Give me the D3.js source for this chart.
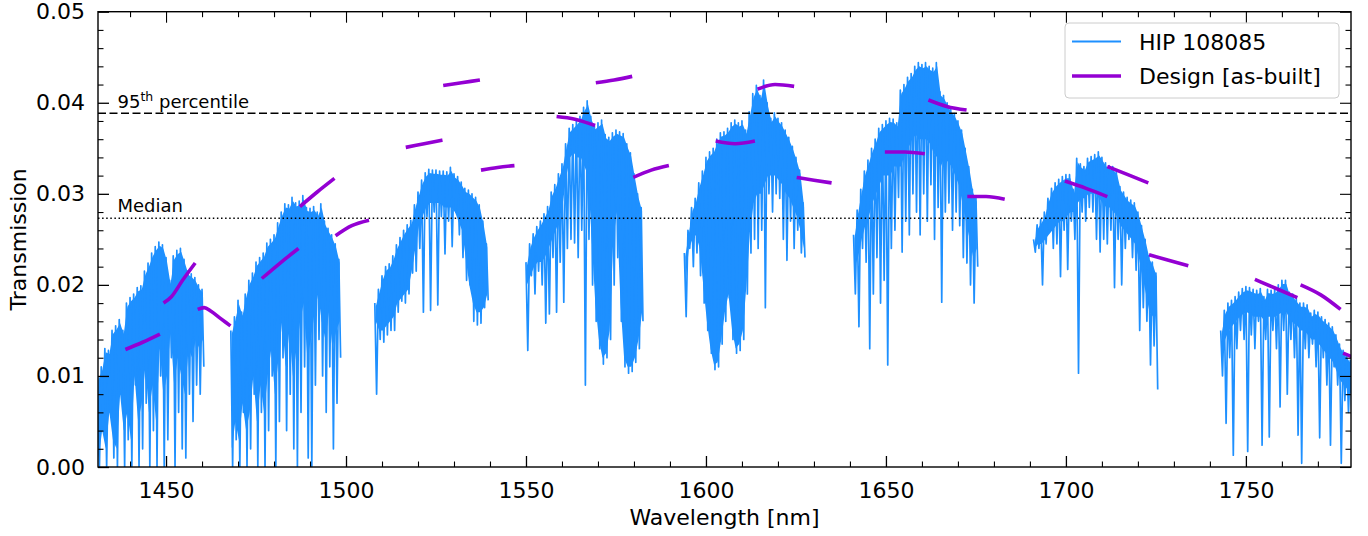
<!DOCTYPE html>
<html><head><meta charset="utf-8">
<script src="https://cdn.jsdelivr.net/npm/d3@7"></script>
<style>
body{margin:0;background:#fff;}
svg{display:block;font-family:"DejaVu Sans",sans-serif;}
</style></head><body><svg id="c" width="1368" height="536"></svg>
<script>
// ---- DATA ----
// Spectrum of HIP 108085, per 1-nm bin: upper value (top), lower edge of the dense band (band), deepest line (low)
const order1Start = 1431;
const order1Top  = [0.0100,0.0110,0.0130,0.0128,0.0150,0.0155,0.0162,0.0150,0.0180,0.0186,0.0190,0.0197,0.0199,0.0215,0.0224,0.0235,0.0242,0.0247,0.0244,0.0230,0.0205,0.0232,0.0238,0.0240,0.0228,0.0215,0.0212,0.0208,0.0200,0.0195];
const order1Band = [0.001,0.004,0.002,0.006,0.003,0.002,0.008,0.004,0.006,0.003,0.010,0.005,0.007,0.011,0.006,0.009,0.005,0.013,0.008,0.010,0.015,0.009,0.012,0.010,0.008,0.013,0.012,0.014,0.013,0.014];
const order1Low  = [0.000,0.004,0.000,0.006,0.001,0.000,0.008,0.000,0.003,0.000,0.009,0.000,0.002,0.007,0.000,0.004,0.000,0.010,0.000,0.003,0.012,0.000,0.006,0.002,0.001,0.008,0.005,0.009,0.008,0.011];

const order2Start = 1468;
const order2Top  = [0.0150,0.0165,0.0183,0.0170,0.0190,0.0205,0.0213,0.0225,0.0230,0.0235,0.0246,0.0250,0.0255,0.0268,0.0280,0.0289,0.0288,0.0296,0.0290,0.0292,0.0298,0.0285,0.0284,0.0286,0.0280,0.0289,0.0270,0.0262,0.0255,0.0245,0.0228];
const order2Band = [0.002,0.005,0.003,0.007,0.004,0.006,0.010,0.005,0.009,0.006,0.010,0.013,0.008,0.012,0.016,0.011,0.015,0.010,0.013,0.016,0.018,0.012,0.014,0.017,0.019,0.016,0.014,0.017,0.013,0.015,0.016];
const order2Low  = [0.000,0.003,0.000,0.006,0.000,0.002,0.008,0.000,0.006,0.000,0.004,0.010,0.000,0.005,0.012,0.004,0.008,0.002,0.000,0.006,0.011,0.001,0.000,0.009,0.014,0.010,0.006,0.011,0.002,0.007,0.012];

const order3Start = 1508;
const order3Top  = [0.0180,0.0195,0.0210,0.0220,0.0223,0.0232,0.0244,0.0252,0.0260,0.0266,0.0271,0.0288,0.0302,0.0315,0.0323,0.0327,0.0326,0.0326,0.0325,0.0325,0.0324,0.0329,0.0322,0.0319,0.0313,0.0306,0.0304,0.0300,0.0296,0.0288,0.0270,0.0245];
const order3Band = [0.0160,0.0150,0.0150,0.0155,0.0160,0.0165,0.0180,0.0185,0.0190,0.0195,0.0215,0.0240,0.0265,0.0275,0.0285,0.0290,0.0290,0.0290,0.0290,0.0285,0.0285,0.0285,0.0280,0.0270,0.0260,0.0230,0.0200,0.0180,0.0170,0.0170,0.0175,0.0190];
const order3Low  = [0.0080,0.0140,0.0137,0.0145,0.0150,0.0150,0.0170,0.0182,0.0180,0.0190,0.0213,0.0215,0.0240,0.0170,0.0275,0.0172,0.0280,0.0178,0.0275,0.0234,0.0270,0.0242,0.0280,0.0255,0.0230,0.0205,0.0200,0.0160,0.0156,0.0158,0.0175,0.0183];

const order4Start = 1550;
const order4Top  = [0.0225,0.0245,0.0256,0.0264,0.0270,0.0278,0.0286,0.0302,0.0310,0.0322,0.0333,0.0355,0.0372,0.0376,0.0380,0.0385,0.0395,0.0402,0.0385,0.0375,0.0378,0.0381,0.0365,0.0362,0.0367,0.0370,0.0368,0.0366,0.0355,0.0345,0.0322,0.0300,0.0285];
const order4Band = [0.0200,0.0210,0.0220,0.0225,0.0225,0.0230,0.0240,0.0250,0.0260,0.0270,0.0290,0.0320,0.0340,0.0345,0.0340,0.0340,0.0330,0.0320,0.0250,0.0180,0.0140,0.0120,0.0125,0.0150,0.0250,0.0280,0.0180,0.0120,0.0110,0.0110,0.0120,0.0140,0.0170];
const order4Low  = [0.0128,0.0210,0.0190,0.0215,0.0200,0.0158,0.0168,0.0230,0.0170,0.0225,0.0181,0.0240,0.0250,0.0246,0.0230,0.0260,0.0090,0.0250,0.0200,0.0160,0.0130,0.0113,0.0120,0.0140,0.0200,0.0230,0.0160,0.0110,0.0103,0.0105,0.0115,0.0130,0.0160];

const order5Start = 1594;
const order5Top  = [0.0235,0.0260,0.0285,0.0295,0.0312,0.0325,0.0340,0.0346,0.0350,0.0360,0.0367,0.0368,0.0372,0.0378,0.0381,0.0378,0.0380,0.0370,0.0390,0.0410,0.0419,0.0408,0.0425,0.0400,0.0383,0.0389,0.0383,0.0378,0.0370,0.0362,0.0352,0.0340,0.0326,0.0290];
const order5Band = [0.0200,0.0240,0.0250,0.0255,0.0240,0.0200,0.0160,0.0130,0.0112,0.0115,0.0140,0.0170,0.0190,0.0150,0.0130,0.0135,0.0150,0.0200,0.0260,0.0290,0.0300,0.0300,0.0310,0.0320,0.0320,0.0320,0.0315,0.0310,0.0300,0.0295,0.0285,0.0275,0.0260,0.0240];
const order5Low  = [0.0165,0.0240,0.0220,0.0235,0.0210,0.0180,0.0150,0.0125,0.0107,0.0110,0.0135,0.0160,0.0186,0.0140,0.0125,0.0128,0.0140,0.0190,0.0235,0.0250,0.0240,0.0260,0.0175,0.0300,0.0280,0.0300,0.0295,0.0250,0.0227,0.0270,0.0240,0.0260,0.0235,0.0230];

const order6Start = 1641;
const order6Top  = [0.0255,0.0282,0.0305,0.0325,0.0337,0.0350,0.0360,0.0372,0.0376,0.0380,0.0383,0.0382,0.0378,0.0414,0.0420,0.0428,0.0432,0.0440,0.0444,0.0442,0.0444,0.0440,0.0438,0.0444,0.0412,0.0408,0.0400,0.0393,0.0388,0.0380,0.0370,0.0350,0.0330,0.0305,0.0295];
const order6Band = [0.0220,0.0230,0.0250,0.0265,0.0275,0.0290,0.0300,0.0310,0.0320,0.0320,0.0320,0.0330,0.0330,0.0330,0.0345,0.0350,0.0360,0.0365,0.0360,0.0360,0.0360,0.0355,0.0345,0.0340,0.0330,0.0340,0.0335,0.0330,0.0320,0.0310,0.0290,0.0270,0.0250,0.0230,0.0240];
const order6Low  = [0.0190,0.0154,0.0240,0.0225,0.0130,0.0190,0.0230,0.0180,0.0205,0.0112,0.0240,0.0260,0.0296,0.0236,0.0270,0.0255,0.0300,0.0280,0.0255,0.0300,0.0270,0.0310,0.0250,0.0285,0.0181,0.0280,0.0290,0.0260,0.0280,0.0265,0.0230,0.0224,0.0200,0.0180,0.0220];

const order7Start = 1691;
const order7Top  = [0.0250,0.0266,0.0272,0.0280,0.0295,0.0306,0.0312,0.0316,0.0319,0.0321,0.0321,0.0305,0.0339,0.0333,0.0330,0.0339,0.0341,0.0343,0.0346,0.0340,0.0334,0.0331,0.0330,0.0325,0.0308,0.0302,0.0296,0.0293,0.0290,0.0280,0.0265,0.0250,0.0232,0.0225,0.0213];
const order7Band = [0.0240,0.0245,0.0245,0.0250,0.0255,0.0260,0.0265,0.0270,0.0270,0.0275,0.0280,0.0280,0.0290,0.0295,0.0295,0.0300,0.0300,0.0300,0.0295,0.0290,0.0285,0.0285,0.0280,0.0275,0.0265,0.0260,0.0255,0.0250,0.0245,0.0230,0.0210,0.0190,0.0170,0.0165,0.0170];
const order7Low  = [0.0236,0.0240,0.0200,0.0245,0.0260,0.0240,0.0245,0.0209,0.0260,0.0217,0.0270,0.0250,0.0103,0.0280,0.0270,0.0285,0.0280,0.0250,0.0236,0.0250,0.0245,0.0260,0.0197,0.0250,0.0200,0.0240,0.0250,0.0230,0.0216,0.0150,0.0175,0.0160,0.0112,0.0133,0.0085];

const order8Start = 1743;
const order8Top  = [0.0150,0.0172,0.0180,0.0183,0.0187,0.0192,0.0196,0.0198,0.0197,0.0195,0.0194,0.0196,0.0187,0.0195,0.0194,0.0195,0.0200,0.0205,0.0205,0.0192,0.0190,0.0185,0.0180,0.0180,0.0178,0.0169,0.0172,0.0170,0.0165,0.0162,0.0158,0.0154,0.0145,0.0135,0.0128,0.0123,0.0117,0.0110];
const order8Band = [0.0120,0.0140,0.0150,0.0155,0.0160,0.0165,0.0168,0.0170,0.0168,0.0165,0.0165,0.0165,0.0160,0.0165,0.0165,0.0165,0.0168,0.0170,0.0170,0.0162,0.0158,0.0155,0.0150,0.0150,0.0145,0.0140,0.0140,0.0135,0.0130,0.0125,0.0120,0.0115,0.0105,0.0095,0.0090,0.0085,0.0080,0.0080];
const order8Low  = [0.0100,0.0048,0.0120,0.0013,0.0130,0.0150,0.0140,0.0017,0.0145,0.0130,0.0160,0.0024,0.0140,0.0033,0.0150,0.0130,0.0066,0.0150,0.0080,0.0140,0.0120,0.0035,0.0004,0.0130,0.0120,0.0135,0.0110,0.0032,0.0120,0.0090,0.0024,0.0110,0.0090,0.0004,0.0073,0.0060,0.0050,0.0070];

// Design [as-built]: short curves, [wavelength, transmission]
const designCurves = [
  [[1438.7,0.0129],[1443.5,0.0137],[1448.3,0.0146]],
  [[1449.3,0.0180],[1451.5,0.0187],[1454.6,0.0205],[1458.1,0.0224]],
  [[1458.8,0.0173],[1460.6,0.0175],[1462.5,0.0171],[1465.2,0.0163],[1467.9,0.0155]],
  [[1476.6,0.0207],[1481.7,0.0224],[1486.8,0.0240]],
  [[1487.2,0.0286],[1492.0,0.0302],[1496.8,0.0317]],
  [[1497.1,0.0254],[1501.6,0.0265],[1506.4,0.0271]],
  [[1516.6,0.0351],[1521.7,0.0355],[1526.8,0.0359]],
  [[1527.0,0.0419],[1532.1,0.0422],[1537.2,0.0425]],
  [[1537.5,0.0326],[1542.1,0.0329],[1546.8,0.0331]],
  [[1558.5,0.0385],[1563.6,0.0382],[1569.2,0.0375]],
  [[1569.4,0.0422],[1574.5,0.0425],[1579.5,0.0429]],
  [[1579.8,0.0318],[1584.8,0.0326],[1589.7,0.0331]],
  [[1602.7,0.0358],[1608.1,0.0355],[1613.6,0.0358]],
  [[1614.3,0.0415],[1619.2,0.0420],[1624.5,0.0418]],
  [[1625.2,0.0318],[1630.0,0.0315],[1634.9,0.0312]],
  [[1649.7,0.0346],[1655.2,0.0346],[1660.8,0.0344]],
  [[1661.8,0.0403],[1666.9,0.0396],[1672.4,0.0392]],
  [[1672.6,0.0297],[1677.8,0.0297],[1683.0,0.0294]],
  [[1699.7,0.0314],[1705.6,0.0306],[1711.5,0.0297]],
  [[1711.5,0.0330],[1717.2,0.0321],[1722.9,0.0312]],
  [[1723.1,0.0233],[1728.5,0.0227],[1734.0,0.0221]],
  [[1752.5,0.0206],[1758.4,0.0196],[1764.3,0.0186]],
  [[1765.2,0.0200],[1770.8,0.0189],[1776.3,0.0173]],
  [[1777.0,0.0125],[1782.0,0.0117]]
];

const percentile95 = 0.03884;
const median = 0.02731;
const xTicks = [1450,1500,1550,1600,1650,1700,1750];
const xMinorTicks = [1440,1460,1470,1480,1490,1510,1520,1530,1540,1560,1570,1580,1590,1610,1620,1630,1640,1660,1670,1680,1690,1710,1720,1730,1740,1760,1770];
const yTicks = [0,0.01,0.02,0.03,0.04,0.05];
const yMinorTicks = [0.002,0.004,0.006,0.008,0.012,0.014,0.016,0.018,0.022,0.024,0.026,0.028,0.032,0.034,0.036,0.038,0.042,0.044,0.046,0.048];
const legendLabels = ["HIP 108085","Design [as-built]"];

// ---- DRAWING ----
const orders = [
  {start:order1Start, top:order1Top, band:order1Band, low:order1Low},
  {start:order2Start, top:order2Top, band:order2Band, low:order2Low},
  {start:order3Start, top:order3Top, band:order3Band, low:order3Low},
  {start:order4Start, top:order4Top, band:order4Band, low:order4Low},
  {start:order5Start, top:order5Top, band:order5Band, low:order5Low},
  {start:order6Start, top:order6Top, band:order6Band, low:order6Low},
  {start:order7Start, top:order7Top, band:order7Band, low:order7Low},
  {start:order8Start, top:order8Top, band:order8Band, low:order8Low}
];
const blue = "#1e90ff", purple = "#9400d3";
const m = {l:98, r:1351, t:11.7, b:467};
const x = d3.scaleLinear().domain([1431.1,1779.2]).range([m.l,m.r]);
const y = d3.scaleLinear().domain([0,0.05]).range([m.b,m.t]);
const svg = d3.select("#c");
svg.append("defs").append("clipPath").attr("id","clip")
  .append("rect").attr("x",m.l).attr("y",m.t).attr("width",m.r-m.l).attr("height",m.b-m.t);
const plot = svg.append("g").attr("clip-path","url(#clip)");
const line = d3.line().x(d=>x(d[0])).y(d=>y(d[1]));
const band = d3.area().x(d=>x(d.w)).y0(d=>y(d.b)).y1(d=>y(d.t));

orders.forEach(o=>{
  const n = Math.min(o.top.length, o.low.length, o.band.length);
  const pts = [], bpts = [];
  for(let i=0;i<n;i++){
    pts.push([o.start+i, o.top[i]]);
    pts.push([o.start+i+0.5, o.low[i]]);
    bpts.push({w:o.start+i+0.25, t:o.top[i]-0.0004, b:o.band[i]});
  }
  plot.append("path").attr("d", band(bpts)).attr("fill",blue).attr("stroke","none");
  plot.append("path").attr("d", line(pts)).attr("fill","none")
    .attr("stroke",blue).attr("stroke-width",1.7).attr("stroke-linejoin","round");
});

// reference lines
plot.append("line").attr("x1",m.l).attr("x2",m.r).attr("y1",y(percentile95)).attr("y2",y(percentile95))
  .attr("stroke","#000").attr("stroke-width",1.5).attr("stroke-dasharray","8,3.5");
plot.append("line").attr("x1",m.l).attr("x2",m.r).attr("y1",y(median)).attr("y2",y(median))
  .attr("stroke","#000").attr("stroke-width",1.5).attr("stroke-dasharray","1.5,2.6");

// design curves
const smooth = d3.line().x(d=>x(d[0])).y(d=>y(d[1])).curve(d3.curveMonotoneX);
designCurves.forEach(c=>{
  plot.append("path").attr("d", smooth(c)).attr("fill","none")
    .attr("stroke",purple).attr("stroke-width",3.6);
});

// labels for reference lines
const t95 = svg.append("text").attr("x",117.5).attr("y",107.5).attr("font-size",18);
t95.append("tspan").text("95");
t95.append("tspan").attr("font-size",12.5).attr("dy",-7).text("th");
t95.append("tspan").attr("dy",7).text(" percentile");
svg.append("text").attr("x",117.5).attr("y",212).attr("font-size",18).text("Median");

// axes
function styleAxis(g){
  g.select(".domain").remove();
  g.selectAll(".tick line").attr("stroke","#000").attr("stroke-width",1.3);
  g.selectAll(".tick text").attr("font-size",22).attr("fill","#000").attr("font-family","DejaVu Sans, sans-serif");
}
function styleMinor(g){
  g.select(".domain").remove();
  g.selectAll(".tick line").attr("stroke","#000").attr("stroke-width",1.1);
  g.selectAll(".tick text").remove();
}
svg.append("g").attr("transform",`translate(0,${m.b})`)
  .call(d3.axisBottom(x).tickValues(xTicks).tickFormat(d3.format("d")).tickSizeInner(-11).tickSizeOuter(0).tickPadding(15)).call(styleAxis);
svg.append("g").attr("transform",`translate(0,${m.b})`)
  .call(d3.axisBottom(x).tickValues(xMinorTicks).tickSizeInner(-5.5).tickSizeOuter(0)).call(styleMinor);
svg.append("g").attr("transform",`translate(0,${m.t})`)
  .call(d3.axisTop(x).tickValues(xTicks).tickSizeInner(-11).tickSizeOuter(0)).call(styleMinor);
svg.append("g").attr("transform",`translate(0,${m.t})`)
  .call(d3.axisTop(x).tickValues(xMinorTicks).tickSizeInner(-5.5).tickSizeOuter(0)).call(styleMinor);
svg.append("g").attr("transform",`translate(${m.l},0)`)
  .call(d3.axisLeft(y).tickValues(yTicks).tickFormat(d3.format(".2f")).tickSizeInner(-11).tickSizeOuter(0).tickPadding(13)).call(styleAxis);
svg.append("g").attr("transform",`translate(${m.l},0)`)
  .call(d3.axisLeft(y).tickValues(yMinorTicks).tickSizeInner(-5.5).tickSizeOuter(0)).call(styleMinor);
svg.append("g").attr("transform",`translate(${m.r},0)`)
  .call(d3.axisRight(y).tickValues(yTicks).tickSizeInner(-11).tickSizeOuter(0)).call(styleMinor);
svg.append("g").attr("transform",`translate(${m.r},0)`)
  .call(d3.axisRight(y).tickValues(yMinorTicks).tickSizeInner(-5.5).tickSizeOuter(0)).call(styleMinor);

svg.append("rect").attr("x",m.l).attr("y",m.t).attr("width",m.r-m.l).attr("height",m.b-m.t)
  .attr("fill","none").attr("stroke","#000").attr("stroke-width",1.4);

// axis titles
svg.append("text").attr("x",(m.l+m.r)/2).attr("y",525).attr("text-anchor","middle").attr("font-size",22).text("Wavelength [nm]");
svg.append("text").attr("transform",`translate(26,${(m.t+m.b)/2}) rotate(-90)`).attr("text-anchor","middle").attr("font-size",22).text("Transmission");

// legend
const lg = svg.append("g");
lg.append("rect").attr("x",1065).attr("y",23).attr("width",274).attr("height",75).attr("rx",4)
  .attr("fill","#fff").attr("fill-opacity",0.8).attr("stroke","#cccccc").attr("stroke-width",1);
const legendColors = [blue, purple], legendWidths = [2, 3.6];
legendLabels.forEach((lab,i)=>{
  const yy = 41.5 + i*34.5;
  lg.append("line").attr("x1",1072).attr("x2",1121).attr("y1",yy).attr("y2",yy)
    .attr("stroke",legendColors[i]).attr("stroke-width",legendWidths[i]);
  lg.append("text").attr("x",1139).attr("y",yy+8).attr("font-size",22).text(lab);
});
</script></body></html>
